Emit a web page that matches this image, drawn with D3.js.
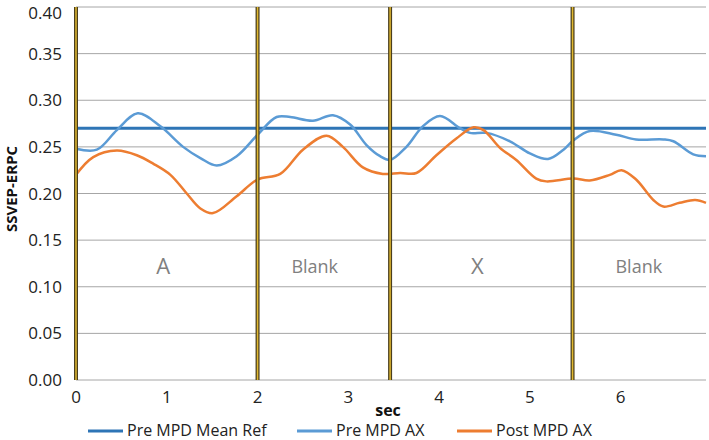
<!DOCTYPE html>
<html>
<head>
<meta charset="utf-8">
<script src="https://cdn.jsdelivr.net/npm/d3@7"></script>
<style>
  body { margin: 0; background: #fff; }
  text { font-family: "Open Sans", sans-serif; }
</style>
</head>
<body>
<script>
// values (sec, SSVEP-ERPC)
var meanRefValue = 0.27;
var preTime  = [0.00,0.23,0.45,0.68,0.93,1.18,1.37,1.55,1.77,2.00,2.21,2.36,2.61,2.83,3.02,3.20,3.35,3.46,3.64,3.82,4.01,4.23,4.34,4.52,4.78,5.00,5.20,5.37,5.48,5.66,5.95,6.17,6.47,6.58,6.80,6.94];
var preValue = [0.248,0.247,0.268,0.286,0.272,0.250,0.238,0.230,0.240,0.263,0.282,0.282,0.278,0.284,0.274,0.252,0.240,0.236,0.250,0.272,0.283,0.270,0.265,0.265,0.256,0.243,0.237,0.247,0.257,0.267,0.263,0.258,0.258,0.256,0.242,0.240];
var postTime  = [0.00,0.19,0.45,0.67,0.85,1.04,1.22,1.37,1.51,1.77,2.00,2.25,2.50,2.76,2.94,3.16,3.38,3.57,3.75,3.97,4.19,4.38,4.49,4.67,4.85,5.07,5.18,5.48,5.66,5.88,6.01,6.17,6.36,6.47,6.65,6.82,6.94];
var postValue = [0.220,0.239,0.246,0.241,0.232,0.220,0.200,0.184,0.179,0.197,0.215,0.221,0.247,0.262,0.250,0.228,0.221,0.222,0.222,0.241,0.259,0.271,0.268,0.249,0.236,0.216,0.213,0.216,0.214,0.220,0.225,0.215,0.193,0.186,0.190,0.193,0.190];
var markerTime = [0, 2, 3.46, 5.47];
var regionLabels = ['A','Blank','X','Blank'];
var regionCenter = [0.96, 2.63, 4.42, 6.2];
var yTicks = [0,0.05,0.10,0.15,0.20,0.25,0.30,0.35,0.40];
var xTicks = [0,1,2,3,4,5,6];
var seriesNames = ['Pre MPD Mean Ref','Pre MPD AX','Post MPD AX'];
var seriesColors = ['#2e75b6','#5b9bd5','#ed7d31'];

var svgWidth = 709;
var svgHeight = 440;
var margin = {top: 7, right: 3, bottom: 60, left: 76};

var svg = d3.select("body")
            .append("svg")
            .attr("width", svgWidth)
            .attr("height", svgHeight);

var x = d3.scaleLinear()
          .domain([0, 6.94])
          .range([margin.left, svgWidth - margin.right]);
var y = d3.scaleLinear()
          .domain([0, 0.4])
          .range([svgHeight - margin.bottom, margin.top]);

// gridlines
svg.append("g")
   .selectAll("line")
   .data(yTicks)
   .enter()
   .append("line")
     .attr("x1", x(0))
     .attr("x2", x(6.94))
     .attr("y1", function(d) { return y(d); })
     .attr("y2", function(d) { return y(d); })
     .attr("stroke", "#a6a6a6")
     .attr("stroke-width", 1);

// y tick labels (top one nudged down so it is not clipped)
svg.append("g")
   .selectAll("text")
   .data(yTicks)
   .enter()
   .append("text")
     .attr("x", 62)
     .attr("y", function(d) { return Math.max(y(d) + 6, 19); })
     .attr("text-anchor", "end")
     .attr("font-size", "17px")
     .attr("fill", "#222")
     .text(function(d) { return d3.format(".2f")(d); });

// x tick labels
svg.append("g")
   .selectAll("text")
   .data(xTicks)
   .enter()
   .append("text")
     .attr("x", function(d) { return x(d); })
     .attr("y", 403)
     .attr("text-anchor", "middle")
     .attr("font-size", "17px")
     .attr("fill", "#222")
     .text(function(d) { return d; });

// axis titles
svg.append("text")
   .attr("x", 388)
   .attr("y", 416)
   .attr("text-anchor", "middle")
   .attr("font-size", "16px")
   .attr("font-weight", "bold")
   .attr("fill", "#111")
   .text("sec");
svg.append("text")
   .attr("transform", "translate(17," + 189 + ") rotate(-90)")
   .attr("text-anchor", "middle")
   .attr("font-size", "15px")
   .attr("font-weight", "bold")
   .attr("fill", "#111")
   .text("SSVEP-ERPC");

// region labels
svg.append("g")
   .selectAll("text")
   .data(regionLabels)
   .enter()
   .append("text")
     .attr("x", function(d, i) { return x(regionCenter[i]); })
     .attr("y", function(d) { return d == 'Blank' ? 273 : 274; })
     .attr("text-anchor", "middle")
     .attr("font-size", function(d) { return d == 'Blank' ? "18px" : "22px"; })
     .attr("fill", "#808080")
     .text(function(d) { return d; });

// lines
var line = d3.line()
             .x(function(d) { return x(d[0]); })
             .y(function(d) { return y(d[1]); })
             .curve(d3.curveCatmullRom.alpha(0.5));

svg.append("line")
   .attr("x1", x(0))
   .attr("x2", x(6.94))
   .attr("y1", y(meanRefValue))
   .attr("y2", y(meanRefValue))
   .attr("stroke", seriesColors[0])
   .attr("stroke-width", 3);

svg.append("path")
   .attr("d", line(d3.zip(preTime, preValue)))
   .attr("fill", "none")
   .attr("stroke", seriesColors[1])
   .attr("stroke-width", 2.5);

svg.append("path")
   .attr("d", line(d3.zip(postTime, postValue)))
   .attr("fill", "none")
   .attr("stroke", seriesColors[2])
   .attr("stroke-width", 2.5);

// marker lines
var markers = svg.append("g")
   .selectAll("g")
   .data(markerTime)
   .enter()
   .append("g");
markers.append("line")
   .attr("x1", function(d) { return x(d); })
   .attr("x2", function(d) { return x(d); })
   .attr("y1", y(0.4))
   .attr("y2", y(0))
   .attr("stroke", "#4a3f1e")
   .attr("stroke-width", 4);
markers.append("line")
   .attr("x1", function(d) { return x(d); })
   .attr("x2", function(d) { return x(d); })
   .attr("y1", y(0.4))
   .attr("y2", y(0))
   .attr("stroke", "#e0b830")
   .attr("stroke-width", 1.5);

// legend
var legendX = [88, 297, 457];
var legend = svg.append("g")
   .selectAll("g")
   .data(seriesNames)
   .enter()
   .append("g")
   .attr("transform", function(d, i) { return "translate(" + legendX[i] + ",431)"; });
legend.append("line")
   .attr("x1", 0)
   .attr("x2", 35)
   .attr("stroke", function(d, i) { return seriesColors[i]; })
   .attr("stroke-width", 3);
legend.append("text")
   .attr("x", 39)
   .attr("y", 5)
   .attr("font-size", "16px")
   .attr("fill", "#222")
   .text(function(d) { return d; });
</script>
</body>
</html>
